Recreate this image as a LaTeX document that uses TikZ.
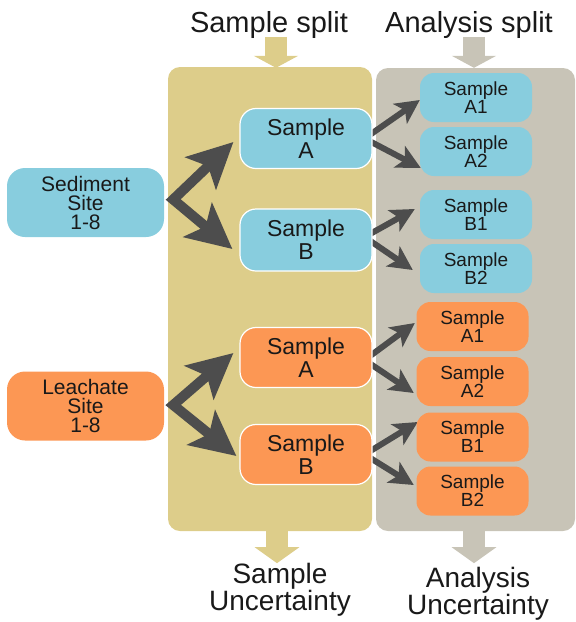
\documentclass[tikz,border=0pt]{standalone}
\usepackage{fontspec}
\setmainfont{Liberation Sans}
\usetikzlibrary{arrows.meta,calc}
\pgfdeclarelayer{panels}
\pgfdeclarelayer{links}
\pgfsetlayers{panels,links,main}
\definecolor{nblue}{RGB}{136,205,222}
\definecolor{norange}{RGB}{252,151,84}
\definecolor{pyellow}{RGB}{221,205,138}
\definecolor{pgray}{RGB}{200,196,183}
\definecolor{arrowgray}{RGB}{77,77,77}
\definecolor{txt}{RGB}{25,25,25}
\begin{document}
\begin{tikzpicture}[x=1pt,y=-1pt,
  panel/.style={rounded corners=12pt, inner sep=0pt},
  site/.style={rounded corners=18pt, minimum width=157pt, minimum height=69pt, inner sep=0pt, align=center, text=txt, font=\fontsize{21}{19}\selectfont},
  mainbox/.style={rounded corners=16pt, draw=white, line width=1.2pt, minimum width=132pt, minimum height=60pt, inner sep=0pt, align=center, text=txt, font=\fontsize{23}{23}\selectfont},
  smallbox/.style={rounded corners=14pt, minimum width=112pt, minimum height=49pt, inner sep=0pt, align=center, text=txt, font=\fontsize{19}{18}\selectfont},
  bigV/.style={draw=arrowgray, line width=10pt, line join=miter, arrows={Stealth[length=45pt,width=44pt,inset=10pt]-Stealth[length=45pt,width=44pt,inset=10pt]}},
  smallV/.style={draw=arrowgray, line width=6pt, line join=miter, arrows={Stealth[length=24pt,width=24pt,inset=6pt]-Stealth[length=24pt,width=24pt,inset=6pt]}},
  fat/.style={draw=#1, line width=22pt},
  title/.style={text=txt, font=\fontsize{29}{27}\selectfont, align=center, inner sep=0pt},
]
\useasboundingbox (0,0) rectangle (576,622);

% coloured boxes
\node[site, fill=nblue] (sed) at (85.5,202.5) {Sediment\\Site\\1-8};
\node[site, fill=norange] (lea) at (85.5,406) {Leachate\\Site\\1-8};

\node[mainbox, fill=nblue] (bA) at (306,138.5) {Sample\\A};
\node[mainbox, fill=nblue, minimum height=62pt] (bB) at (306,240) {Sample\\B};
\node[mainbox, fill=norange] (oA) at (306,357.5) {Sample\\A};
\node[mainbox, fill=norange] (oB) at (306,454.5) {Sample\\B};

\node[smallbox, fill=nblue] (bA1) at (476,97.5) {Sample\\A1};
\node[smallbox, fill=nblue] (bA2) at (476,151.5) {Sample\\A2};
\node[smallbox, fill=nblue] (bB1) at (476,214.5) {Sample\\B1};
\node[smallbox, fill=nblue] (bB2) at (476,268.5) {Sample\\B2};
\node[smallbox, fill=norange] (oA1) at (472.5,326.5) {Sample\\A1};
\node[smallbox, fill=norange] (oA2) at (472.5,381.5) {Sample\\A2};
\node[smallbox, fill=norange] (oB1) at (472.5,437) {Sample\\B1};
\node[smallbox, fill=norange] (oB2) at (472.5,491) {Sample\\B2};

% titles
\node[title, anchor=base] (tS) at (269,32) {Sample split};
\node[title, anchor=base] (tA) at (469,32) {Analysis split};
\node[title, font=\fontsize{28}{27}\selectfont, anchor=north] (uS) at (280,563) {Sample\\Uncertainty};
\node[title, font=\fontsize{28}{26}\selectfont, anchor=north] (uA) at (478,567) {Analysis\\Uncertainty};

% panels and their arrows
\begin{pgfonlayer}{panels}
\node[panel, fill=pyellow, minimum width=204pt, minimum height=464pt] (ypan) at (270,299) {};
\node[panel, fill=pgray, minimum width=199pt, minimum height=463pt] (gpan) at (475.5,299.5) {};
\draw[fat=pyellow, -{Triangle[length=12pt,width=44pt]}] ($(ypan.north)+(6,-30)$) -- ($(ypan.north)+(6,1)$);
\draw[fat=pgray, -{Triangle[length=12pt,width=44pt]}] ($(gpan.north)+(-1.5,-31)$) -- ($(gpan.north)+(-1.5,0)$);
\draw[fat=pyellow, -{Triangle[length=16pt,width=44pt]}] ($(ypan.south)+(7,-1)$) -- ($(ypan.south)+(7,32)$);
\draw[fat=pgray, -{Triangle[length=16pt,width=44pt]}] ($(gpan.south)+(-1.5,-1)$) -- ($(gpan.south)+(-1.5,32)$);
\end{pgfonlayer}

% connectors
\begin{pgfonlayer}{links}
\draw[bigV] ($(bA.west)+(-6,3.5)$) -- ($(sed.east)+(9,-3)$) -- ($(bB.west)+(-7,9)$);
\draw[bigV] ($(oA.west)+(-6,-4.5)$) -- ($(lea.east)+(9,-1)$) -- ($(oB.west)+(-3,1.5)$);
\draw[smallV] ($(bA1.west)+(0,2.5)$) -- ($(bA.east)+(-8,0)$) -- ($(bA2.west)+(1,16.5)$);
\draw[smallV] ($(bB1.west)+(-5,-5.5)$) -- ($(bB.east)+(-8,-3)$) -- ($(bB2.west)+(-7,1.5)$);
\draw[smallV] ($(oA1.west)+(-1.5,-3.5)$) -- ($(oA.east)+(-8,2.5)$) -- ($(oA2.west)+(-2.5,11.5)$);
\draw[smallV] ($(oB1.west)+(1.5,-15)$) -- ($(oB.east)+(-8,0)$) -- ($(oB2.west)+(-2.5,-6)$);
\end{pgfonlayer}
\end{tikzpicture}
\end{document}
